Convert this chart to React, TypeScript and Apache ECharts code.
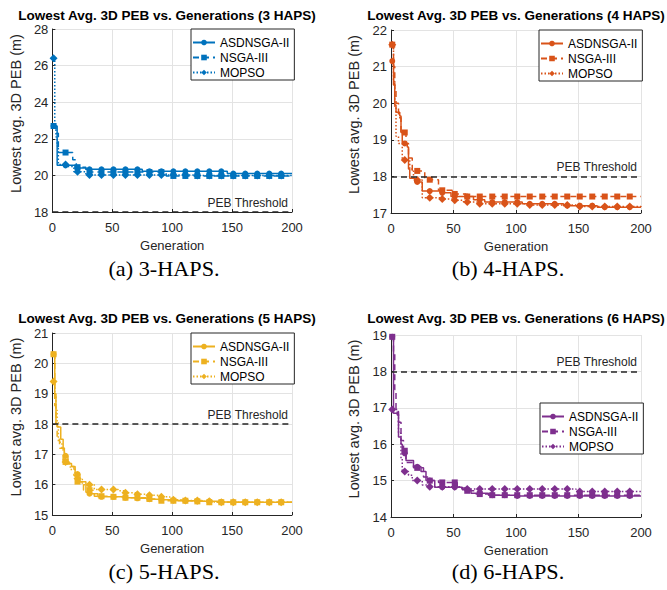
import React, { useEffect, useRef } from "react";
import * as echarts from "echarts";

// marker generations (MATLAB MarkerIndices 1:10:end)
const markerGens = [1, 11, 21, 31, 41, 51, 61, 71, 81, 91, 101, 111, 121, 131, 141, 151, 161, 171, 181, 191];
const seriesNames = ["ASDNSGA-II", "NSGA-III", "MOPSO"];
const xTicks = [0, 50, 100, 150, 200];
const threshold = 18;

// breakpoints [generation, lowest avg. 3D PEB] (step changes)
// (a) 3 HAPS
const asd3 = [[1, 22.7], [4, 20.55], [19, 20.4], [28, 20.33], [75, 20.22], [146, 20.1], [200, 20.08]];
const nsga3 = [[1, 22.7], [3, 22.3], [5, 21.25], [17, 20.85], [20, 20.45], [28, 20.18], [95, 19.97], [200, 19.95]];
const mopso3 = [[1, 26.4], [2, 22.7], [3, 22.1], [4, 21.6], [5, 20.6], [12, 20.48], [18, 20.2], [28, 20.02], [120, 19.99], [200, 19.99]];
// (b) 4 HAPS
const asd4 = [[1, 21.15], [2, 20.5], [3, 19.95], [4, 19.75], [7, 19.65], [8, 19.2], [9, 18.9], [13, 18.8], [14, 18.2], [15, 17.95], [19, 17.85], [25, 17.6], [40, 17.55], [48, 17.45], [66, 17.36], [75, 17.3], [105, 17.25], [138, 17.2], [165, 17.16], [200, 17.16]];
const nsga4 = [[1, 21.6], [2, 21.0], [3, 20.4], [4, 20.0], [6, 19.6], [8, 19.2], [12, 18.9], [14, 18.5], [17, 18.15], [27, 17.91], [38, 17.62], [49, 17.52], [60, 17.45], [200, 17.44]];
const mopso4 = [[1, 21.6], [2, 20.6], [3, 19.9], [4, 19.1], [6, 18.9], [9, 18.45], [15, 18.2], [18, 17.9], [25, 17.42], [40, 17.38], [50, 17.35], [58, 17.3], [70, 17.25], [110, 17.22], [150, 17.18], [200, 17.15]];
// (c) 5 HAPS
const asd5 = [[1, 20.3], [2, 19.0], [3, 18.0], [4, 17.9], [7, 17.5], [9, 17.2], [10, 16.95], [13, 16.7], [16, 16.6], [19, 16.35], [23, 16.1], [28, 15.75], [30, 15.7], [38, 15.6], [60, 15.57], [70, 15.55], [80, 15.52], [90, 15.5], [100, 15.48], [110, 15.47], [120, 15.45], [140, 15.43], [150, 15.42], [200, 15.42]];
const nsga5 = [[1, 20.3], [2, 18.6], [3, 18.0], [4, 17.5], [6, 17.2], [9, 16.75], [14, 16.6], [18, 16.3], [20, 16.1], [26, 15.82], [35, 15.62], [50, 15.6], [60, 15.57], [78, 15.53], [90, 15.47], [115, 15.45], [130, 15.42], [200, 15.42]];
const mopso5 = [[1, 19.4], [2, 18.9], [3, 18.45], [4, 18.1], [5, 17.4], [8, 17.2], [10, 16.75], [15, 16.5], [19, 16.2], [25, 16.0], [35, 15.84], [55, 15.8], [60, 15.73], [70, 15.68], [80, 15.65], [90, 15.6], [98, 15.5], [110, 15.48], [125, 15.45], [135, 15.42], [200, 15.42]];
// (d) 6 HAPS
const asd6 = [[1, 18.95], [2, 16.85], [5, 16.8], [6, 16.2], [8, 16.0], [9, 15.75], [12, 15.55], [18, 15.38], [24, 15.25], [28, 15.0], [35, 14.82], [57, 14.75], [64, 14.65], [78, 14.6], [100, 14.58], [200, 14.57]];
const nsga6 = [[1, 18.95], [2, 18.5], [3, 17.5], [4, 16.9], [6, 16.6], [8, 16.1], [10, 15.82], [12, 15.5], [18, 15.35], [26, 15.1], [30, 15.0], [38, 14.95], [53, 14.8], [60, 14.72], [68, 14.63], [80, 14.6], [200, 14.58]];
const mopso6 = [[1, 16.95], [5, 16.85], [6, 16.3], [8, 15.6], [9, 15.25], [14, 15.15], [17, 15.0], [25, 14.88], [30, 14.83], [55, 14.8], [58, 14.77], [148, 14.7], [200, 14.68]];

const FONT = '"Liberation Sans", Arial, Helvetica, sans-serif';
const SERIF = '"Liberation Serif", "Times New Roman", serif';
const AXIS = "#262626";

const panels = [
  { title: "Lowest Avg. 3D PEB vs. Generations (3 HAPS)", caption: "(a) 3-HAPS.", color: "#0072BD", yMin: 18, yMax: 28, yStep: 2, data: [asd3, nsga3, mopso3], box: { x: 0, y: 0 }, grid: { left: 42, top: 29, width: 250, height: 183 }, legend: { left: 191, top: 29 }, titleY: 15, captionX: 164, captionY: 269 },
  { title: "Lowest Avg. 3D PEB vs. Generations (4 HAPS)", caption: "(b) 4-HAPS.", color: "#D95319", yMin: 17, yMax: 22, yStep: 1, data: [asd4, nsga4, mopso4], box: { x: 333, y: 0 }, grid: { left: 391, top: 30, width: 250, height: 183 }, legend: { left: 539, top: 30 }, titleY: 15, captionX: 508, captionY: 269 },
  { title: "Lowest Avg. 3D PEB vs. Generations (5 HAPS)", caption: "(c) 5-HAPS.", color: "#EDB120", yMin: 15, yMax: 21, yStep: 1, data: [asd5, nsga5, mopso5], box: { x: 0, y: 295 }, grid: { left: 42, top: 333, width: 250, height: 182 }, legend: { left: 191, top: 333 }, titleY: 318, captionX: 164, captionY: 572 },
  { title: "Lowest Avg. 3D PEB vs. Generations (6 HAPS)", caption: "(d) 6-HAPS.", color: "#7E2F8E", yMin: 14, yMax: 19, yStep: 1, data: [asd6, nsga6, mopso6], box: { x: 333, y: 295 }, grid: { left: 391, top: 335, width: 250, height: 182 }, legend: { left: 540, top: 403 }, titleY: 318, captionX: 508, captionY: 572 },
];

const styles = [
  { symbol: "circle", size: 6, type: "solid" as any },
  { symbol: "rect", size: 6, type: [6, 4] as any },
  { symbol: "diamond", size: 8, type: [1.5, 2] as any },
];

function stepAt(bps: number[][], g: number) {
  let v = bps[0][1];
  for (const [x, y] of bps) if (x <= g) v = y;
  return v;
}

function buildData(bps: number[][]) {
  const set = new Set<number>([...bps.map((p) => p[0]), ...markerGens]);
  const gens = Array.from(set).sort((a, b) => a - b);
  return gens.map((g) => {
    const item: any = { value: [g, stepAt(bps, g)] };
    if (!markerGens.includes(g)) item.symbol = "none";
    return item;
  });
}

function makeOption(p: any) {
  const gl = p.grid.left - p.box.x;
  const gt = p.grid.top - p.box.y;
  return {
    animation: false,
    title: {
      text: p.title,
      left: gl + p.grid.width / 2,
      top: p.titleY - 6 - p.box.y,
      textAlign: "center",
      padding: 0,
      textStyle: { fontFamily: FONT, fontSize: 13.5, fontWeight: "bold", color: "#000", lineHeight: 12 },
    },
    grid: { left: gl, top: gt, width: p.grid.width, height: p.grid.height, containLabel: false },
    legend: {
      orient: "vertical",
      left: p.legend.left - p.box.x,
      top: p.legend.top - p.box.y,
      itemWidth: 22,
      itemHeight: 7,
      itemGap: 0,
      padding: [6, 5, 0, 1],
      borderColor: AXIS,
      borderWidth: 1,
      backgroundColor: "#fff",
      textStyle: { fontFamily: FONT, fontSize: 12, color: "#000", lineHeight: 15 },
      data: seriesNames,
    },
    xAxis: {
      type: "value",
      min: 0,
      max: 200,
      interval: 50,
      name: "Generation",
      nameLocation: "middle",
      nameGap: 24,
      nameTextStyle: { fontFamily: FONT, fontSize: 13, color: AXIS },
      axisLine: { show: true, onZero: false, lineStyle: { color: AXIS, width: 1 } },
      axisTick: { show: true, inside: true, length: 3, lineStyle: { color: AXIS } },
      axisLabel: { fontFamily: FONT, fontSize: 13, color: AXIS, margin: 9, customValues: xTicks },
      splitLine: { show: true, lineStyle: { color: "#e3e3e3", width: 1 } },
    },
    yAxis: {
      type: "value",
      min: p.yMin,
      max: p.yMax,
      interval: p.yStep,
      name: "Lowest avg. 3D PEB (m)",
      nameLocation: "middle",
      nameGap: 22,
      nameTextStyle: { fontFamily: FONT, fontSize: 14.5, color: AXIS, padding: [0, 0, 0, 14] },
      axisLine: { show: true, lineStyle: { color: AXIS, width: 1 } },
      axisTick: { show: true, inside: true, length: 3, lineStyle: { color: AXIS } },
      axisLabel: { fontFamily: FONT, fontSize: 13, color: AXIS, margin: 4, lineHeight: 12 },
      splitLine: { show: true, lineStyle: { color: "#e3e3e3", width: 1 } },
    },
    graphic: [
      {
        type: "text",
        x: p.captionX - p.box.x,
        y: p.captionY - p.box.y,
        scaleX: 1.06,
        style: {
          text: p.caption,
          font: "21px " + SERIF,
          fill: "#000",
          textAlign: "center",
          textVerticalAlign: "middle",
          align: "center",
          verticalAlign: "middle",
        },
      },
    ],
    series: p.data.map((bps: number[][], i: number) => ({
      type: "line",
      name: seriesNames[i],
      step: "end",
      data: buildData(bps),
      symbol: styles[i].symbol,
      symbolSize: styles[i].size,
      showSymbol: true,
      showAllSymbol: true,
      lineStyle: { color: p.color, width: 1.5, type: styles[i].type },
      itemStyle: { color: p.color },
      emphasis: { disabled: true },
      markLine:
        i === 0
          ? {
              silent: true,
              symbol: ["none", "none"],
              data: [{ yAxis: threshold }],
              lineStyle: { color: AXIS, type: [6, 4], width: 1.5 },
              label: {
                show: true,
                position: "insideEndTop",
                formatter: "PEB Threshold",
                fontFamily: FONT,
                fontSize: 12,
                color: AXIS,
                distance: [4, 3],
              },
            }
          : undefined,
    })),
  };
}

function Panel({ p }: { p: any }) {
  const ref = useRef<HTMLDivElement>(null);
  useEffect(() => {
    if (!ref.current) return;
    const chart = echarts.init(ref.current, undefined, { renderer: "svg" });
    chart.setOption(makeOption(p));
    return () => chart.dispose();
  }, [p]);
  return (
    <div
      ref={ref}
      style={{ position: "absolute", left: p.box.x, top: p.box.y, width: 334, height: 295 }}
    />
  );
}

export default function App() {
  return (
    <div style={{ position: "absolute", left: 0, top: 0, width: 667, height: 590, background: "#fff" }}>
      {panels.map((p, i) => (
        <Panel key={i} p={p} />
      ))}
    </div>
  );
}
